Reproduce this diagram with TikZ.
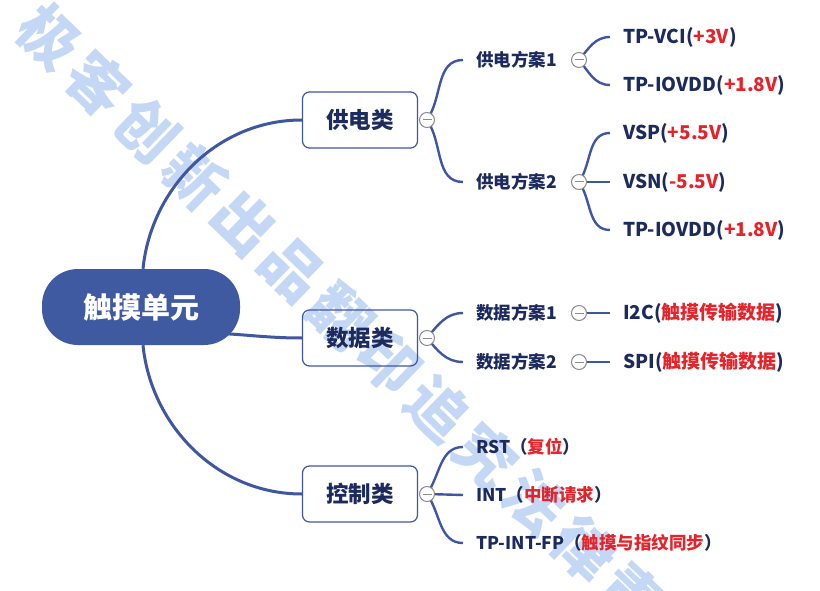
\documentclass[tikz,border=0pt]{standalone}
\usepackage{fontspec}
\setmainfont{Noto Sans CJK SC}
\usetikzlibrary{calc}
\pgfdeclarelayer{background}
\pgfdeclarelayer{marks}
\pgfsetlayers{marks,background,main}
\definecolor{navy}{HTML}{1C2A5E}
\definecolor{lineblue}{HTML}{3F57A0}
\definecolor{rootblue}{HTML}{3F5AA0}
\definecolor{vred}{HTML}{E5232B}
\definecolor{wm}{HTML}{5C92E2}
\definecolor{circgray}{HTML}{8C8C8C}
\begin{document}
\begin{tikzpicture}[x=1pt,y=-1pt,
  rootnode/.style={rounded corners=36pt, fill=rootblue, text=white, minimum width=198pt, minimum height=76pt, inner sep=0pt, font=\bfseries\fontsize{29}{29}\selectfont},
  catnode/.style={draw=lineblue, line width=1.2pt, rounded corners=7pt, minimum width=115pt, minimum height=56pt, inner sep=0pt, text=navy, font=\bfseries\fontsize{22.5}{22.5}\selectfont},
  subnode/.style={anchor=west, inner xsep=13pt, inner ysep=2pt, text=navy, font=\bfseries\fontsize{17.5}{17.5}\selectfont},
  leafnode/.style={anchor=west, inner xsep=13pt, inner ysep=2pt, text=navy, font=\bfseries\fontsize{19}{19}\selectfont},
  foldnode/.style={circle, draw=circgray, fill=white, line width=1pt, minimum size=15pt, inner sep=0pt},
  foldminus/.style={draw=circgray, line width=1pt},
  rootlink/.style={draw=lineblue, line width=3pt},
  link/.style={draw=lineblue, line width=2.4pt},
  wmchar/.style={rotate=-44, text=wm, text opacity=0.36, font=\bfseries\fontsize{60}{60}\selectfont, inner sep=0pt}
]
\useasboundingbox (0,0) rectangle (820,591);

% root
\node[rootnode] (root) at (141,307) {触摸单元};

% categories
\node[catnode] (c1) at (360,120) {供电类};
\node[catnode] (c2) at (360,338) {数据类};
\node[catnode] (c3) at (360,494) {控制类};

% fold circles at categories
\node[foldnode] (f1) at (427,120) {};
\node[foldnode] (f2) at (427,338) {};
\node[foldnode] (f3) at (427,494) {};

% sub nodes
\node[subnode] (s1) at (463,60) {供电方案1};
\node[subnode] (s2) at (463,182) {供电方案2};
\node[subnode] (s3) at (463,313) {数据方案1};
\node[subnode] (s4) at (463,362) {数据方案2};
\node[subnode] (s5) at (463,447) {RST（\textcolor{vred}{复位}）};
\node[subnode] (s6) at (463,495) {INT（\textcolor{vred}{中断请求}）};
\node[subnode] (s7) at (463,543) {TP-INT-FP（\textcolor{vred}{触摸与指纹同步}）};

% fold circles at subs
\node[foldnode] (g1) at (579,60) {};
\node[foldnode] (g2) at (579,182) {};
\node[foldnode] (g3) at (579,313) {};
\node[foldnode] (g4) at (579,362) {};

% leaves
\node[leafnode] (l1) at (610,37) {TP-VCI(\textcolor{vred}{+3V})};
\node[leafnode] (l2) at (610,85) {TP-IOVDD(\textcolor{vred}{+1.8V})};
\node[leafnode] (l3) at (610,133) {VSP(\textcolor{vred}{+5.5V})};
\node[leafnode] (l4) at (610,182) {VSN(\textcolor{vred}{-5.5V})};
\node[leafnode] (l5) at (610,230) {TP-IOVDD(\textcolor{vred}{+1.8V})};
\node[leafnode] (l6) at (610,313) {I2C(\textcolor{vred}{触摸传输数据})};
\node[leafnode] (l7) at (610,362) {SPI(\textcolor{vred}{触摸传输数据})};

\foreach \f in {f1,f2,f3,g1,g2,g3,g4}{
  \draw[foldminus] ([xshift=-4.5pt]\f.center) -- ([xshift=4.5pt]\f.center);
}

\begin{pgfonlayer}{background}
  % root links
  \draw[rootlink] ([xshift=2pt]root.north) .. controls +(8,-80) and +(-85,0) .. (c1.west);
  \draw[rootlink] ([xshift=-30pt,yshift=-26pt]root.east) to[out=-2,in=180] (c2.west);
  \draw[rootlink] ([xshift=2pt]root.south) .. controls +(8,80) and +(-85,0) .. (c3.west);
  % category to sub
  \draw[link] (f1.center) to[out=55,in=180] (s1.west);
  \draw[link] (f1.center) to[out=-55,in=180] (s2.west);
  \draw[link] (f2.center) to[out=50,in=180] (s3.west);
  \draw[link] (f2.center) to[out=-50,in=180] (s4.west);
  \draw[link] (f3.center) to[out=55,in=180] (s5.west);
  \draw[link] (f3.center) -- (s6.west);
  \draw[link] (f3.center) to[out=-55,in=180] (s7.west);
  % sub to leaf
  \draw[link] (g1.center) to[out=50,in=180] (l1.west);
  \draw[link] (g1.center) to[out=-50,in=180] (l2.west);
  \draw[link] (g2.center) to[out=55,in=180] (l3.west);
  \draw[link] (g2.center) -- (l4.west);
  \draw[link] (g2.center) to[out=-55,in=180] (l5.west);
  \draw[link] (g3.center) -- (l6.west);
  \draw[link] (g4.center) -- (l7.west);
\end{pgfonlayer}

% watermark (behind everything)
\begin{pgfonlayer}{marks}
\fill[white] (0,0) rectangle (820,591);
\foreach \ch [count=\i from 0] in {极,客,创,新,出,品,翻,印,追,究,法,律,责,任}{
  \node[wmchar] (w\i) at (50+48.5*\i, 37+46.5*\i) {\ch};
}
\end{pgfonlayer}
\end{tikzpicture}
\end{document}
